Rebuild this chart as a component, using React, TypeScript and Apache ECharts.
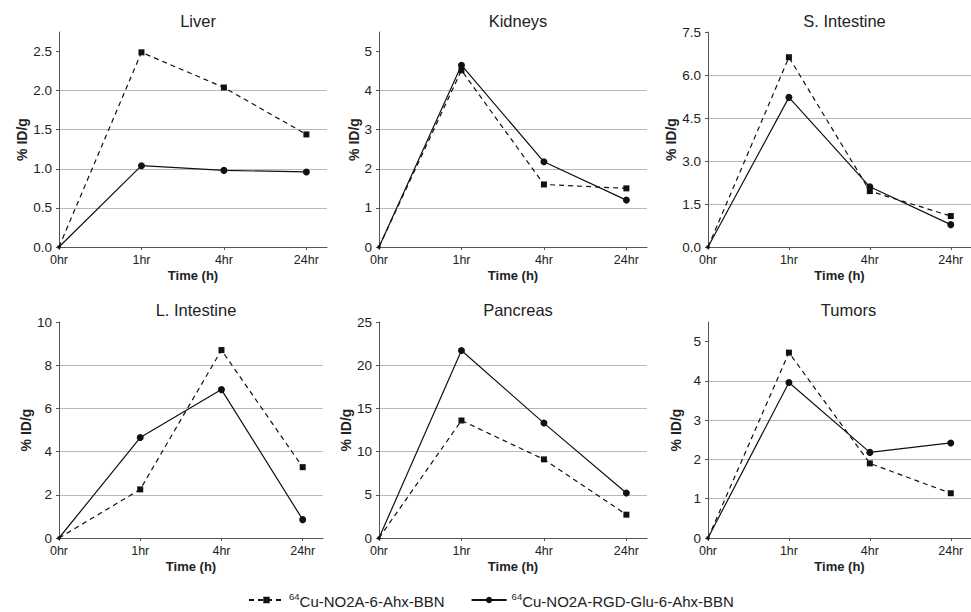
import React, { useEffect, useRef } from "react";
import * as echarts from "echarts";

const TIME_LABELS = ["0hr", "1hr", "4hr", "24hr"];
const ORGANS = ["Liver", "Kidneys", "S. Intestine", "L. Intestine", "Pancreas", "Tumors"];
const SERIES_NAMES = ["64Cu-NO2A-6-Ahx-BBN", "64Cu-NO2A-RGD-Glu-6-Ahx-BBN"];

// %ID/g values per organ, at 0hr, 1hr, 4hr, 24hr
const LIVER_BBN = [0, 2.49, 2.04, 1.44];
const LIVER_RGD = [0, 1.04, 0.98, 0.96];
const KIDNEYS_BBN = [0, 4.52, 1.6, 1.5];
const KIDNEYS_RGD = [0, 4.65, 2.18, 1.2];
const SINT_BBN = [0, 6.62, 1.95, 1.08];
const SINT_RGD = [0, 5.22, 2.1, 0.78];
const LINT_BBN = [0, 2.25, 8.7, 3.28];
const LINT_RGD = [0, 4.65, 6.87, 0.85];
const PANC_BBN = [0, 13.6, 9.1, 2.7];
const PANC_RGD = [0, 21.7, 13.3, 5.2];
const TUM_BBN = [0, 4.72, 1.9, 1.14];
const TUM_RGD = [0, 3.96, 2.18, 2.42];

const BBN = [LIVER_BBN, KIDNEYS_BBN, SINT_BBN, LINT_BBN, PANC_BBN, TUM_BBN];
const RGD = [LIVER_RGD, KIDNEYS_RGD, SINT_RGD, LINT_RGD, PANC_RGD, TUM_RGD];

// y-axis settings per panel
const Y_MAX = [2.75, 5.5, 7.5, 10, 25, 5.5];
const Y_INTERVAL = [0.5, 1, 1.5, 2, 5, 1];
const Y_TOP_TICK = [2.5, 5, 7.5, 10, 25, 5];
const Y_DECIMALS = [1, 0, 1, 0, 0, 0];

// layout
const GRID_LEFT = [59, 379, 708, 59, 379, 708];
const GRID_WIDTH = [268, 268, 263, 264, 268, 271];
const GRID_TOP = [32, 32, 32, 322, 322, 322];
const GRID_HEIGHT = [215, 215, 215, 216, 216, 216];
const NAME_GAP = [28, 18, 28, 25, 25, 25];
const TITLE_TOP = [7, 7, 7, 296, 296, 296];

const TEXT = "#222";
const AXIS = "#555";
const GRIDLINE = "#b8b8b8";
const LINE = "#111";
const FONT = "Liberation Sans, Arial, sans-serif";

function tickValues(i: number): number[] {
  const out: number[] = [];
  const n = Math.round(Y_TOP_TICK[i] / Y_INTERVAL[i]);
  for (let k = 0; k <= n; k++) out.push(+(k * Y_INTERVAL[i]).toFixed(4));
  return out;
}

export default function App() {
  const ref = useRef<HTMLDivElement>(null);
  useEffect(() => {
    if (!ref.current) return;
    const chart = echarts.init(ref.current, null, { renderer: "svg" });
    const idx = [0, 1, 2, 3, 4, 5];
    const xValues = TIME_LABELS.map((_, j) => j);
    const option: any = {
      animation: false,
      backgroundColor: "#fff",
      textStyle: { fontFamily: FONT },
      title: idx.map((i) => ({
        text: ORGANS[i],
        left: GRID_LEFT[i] + GRID_WIDTH[i] / 2,
        top: TITLE_TOP[i],
        textAlign: "center",
        textStyle: { fontSize: 16.5, fontWeight: "normal", color: TEXT, fontFamily: FONT },
      })),
      grid: idx.map((i) => ({
        left: GRID_LEFT[i],
        top: GRID_TOP[i],
        width: GRID_WIDTH[i],
        height: GRID_HEIGHT[i],
        containLabel: false,
      })),
      xAxis: idx.map((i) => ({
        type: "value",
        gridIndex: i,
        min: 0,
        max: 3.25,
        interval: 1,
        axisLine: { show: true, onZero: false, lineStyle: { color: AXIS, width: 1 } },
        axisTick: { show: true, length: 3, customValues: xValues, lineStyle: { color: AXIS } },
        axisLabel: {
          customValues: xValues,
          formatter: (v: number) => (Number.isInteger(v) && TIME_LABELS[v] ? TIME_LABELS[v] : ""),
          color: TEXT,
          fontSize: 12.5,
          margin: 6,
        },
        splitLine: { show: false },
        name: "Time (h)",
        nameLocation: "middle",
        nameGap: 22,
        nameTextStyle: { fontWeight: "bold", fontSize: 13, color: TEXT },
      })),
      yAxis: idx.map((i) => ({
        type: "value",
        gridIndex: i,
        min: 0,
        max: Y_MAX[i],
        interval: Y_INTERVAL[i],
        axisLine: { show: true, lineStyle: { color: AXIS, width: 1 } },
        axisTick: { show: true, length: 3, customValues: tickValues(i), lineStyle: { color: AXIS } },
        axisLabel: {
          customValues: tickValues(i),
          formatter: (v: number) => {
            const r = v / Y_INTERVAL[i];
            if (Math.abs(r - Math.round(r)) > 1e-6 || v > Y_TOP_TICK[i] + 1e-9) return "";
            return v.toFixed(Y_DECIMALS[i]);
          },
          color: TEXT,
          fontSize: 13.5,
          margin: 7,
        },
        splitLine: {
          show: true,
          showMinLine: false,
          showMaxLine: false,
          lineStyle: { color: GRIDLINE, width: 1 },
        },
        name: "% ID/g",
        nameLocation: "middle",
        nameRotate: 90,
        nameGap: NAME_GAP[i],
        nameTextStyle: { fontWeight: "bold", fontSize: 14, color: TEXT },
      })),
      legend: {
        left: 243,
        top: 586,
        itemWidth: 35,
        itemHeight: 8,
        itemGap: 26,
        data: SERIES_NAMES,
        formatter: (name: string) => "{sup|64}{main|" + name.replace(/^64/, "") + "}",
        textStyle: {
          fontSize: 15,
          color: TEXT,
          rich: {
            sup: { fontSize: 9.5, color: TEXT, verticalAlign: "top", lineHeight: 18 },
            main: { fontSize: 15, color: TEXT, lineHeight: 18, verticalAlign: "bottom" },
          },
        },
      },
      series: idx.flatMap((i) => [
        {
          name: SERIES_NAMES[0],
          type: "line",
          xAxisIndex: i,
          yAxisIndex: i,
          data: BBN[i].map((v, j) => [j, v]),
          symbol: "rect",
          symbolSize: (val: number[]) => (val[0] === 0 ? 3 : 6),
          itemStyle: { color: LINE },
          lineStyle: { color: LINE, width: 1.2, type: [5, 4] },
          z: 3,
        },
        {
          name: SERIES_NAMES[1],
          type: "line",
          xAxisIndex: i,
          yAxisIndex: i,
          data: RGD[i].map((v, j) => [j, v]),
          symbol: "circle",
          symbolSize: (val: number[]) => (val[0] === 0 ? 3 : 7),
          itemStyle: { color: LINE },
          lineStyle: { color: LINE, width: 1.2, type: "solid" },
          z: 4,
        },
      ]),
    };
    chart.setOption(option);
    return () => chart.dispose();
  }, []);
  return (
    <div
      ref={ref}
      style={{ position: "fixed", left: 0, top: 0, width: 971, height: 612, background: "#fff" }}
    />
  );
}
